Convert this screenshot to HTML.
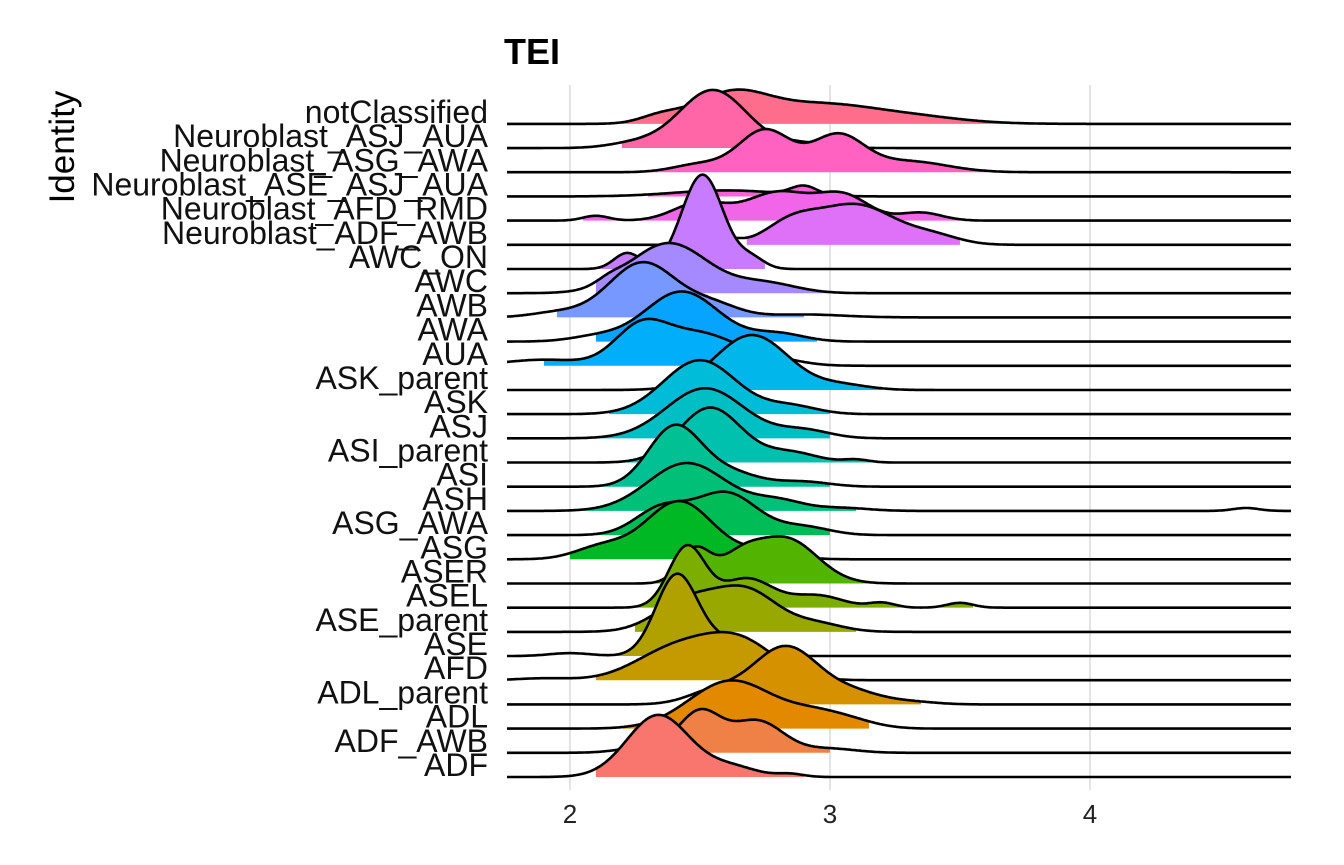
<!DOCTYPE html>
<html><head><meta charset="utf-8"><style>
html,body{margin:0;padding:0;background:#fff;}
svg{display:block;font-family:"Liberation Sans",Arial,sans-serif;}
</style></head><body>
<svg id="chart" width="1344" height="865" viewBox="0 0 1344 865" xmlns="http://www.w3.org/2000/svg">
<text x="504" y="64" font-size="36" font-weight="bold">TEI</text>
<text transform="translate(74,147) rotate(-90)" text-anchor="middle" font-size="35">Identity</text>
<g id="grid"></g>
<g id="ridges"></g>
<g id="labels"></g>
<g id="xticks"></g>
</svg>
<script>
const categories = ["ADF","ADF_AWB","ADL","ADL_parent","AFD","ASE","ASE_parent","ASEL","ASER","ASG","ASG_AWA","ASH","ASI","ASI_parent","ASJ","ASK","ASK_parent","AUA","AWA","AWB","AWC","AWC_ON","Neuroblast_ADF_AWB","Neuroblast_AFD_RMD","Neuroblast_ASE_ASJ_AUA","Neuroblast_ASG_AWA","Neuroblast_ASJ_AUA","notClassified"];
// density components per category: means, sds, amplitudes (in row units)
const compMeans = [
 [2.34,2.62,2.85],[2.5,2.72,2.3,3.0],[2.62,2.95,3.1],[2.83,2.55,3.1,3.3],[2.4,2.65,1.9],
 [2.41,2.6,2.0],[2.45,2.68,2.95],[2.45,2.68,2.95,3.2,3.5],[2.48,2.65,2.83],[2.42,2.12,2.75],
 [2.35,2.6,2.9],[2.45,2.8,3.05,4.6],[2.4,2.6,2.9],[2.54,2.85,3.1],[2.52,2.9],
 [2.5,2.85],[2.7,3.05],[2.27,2.5,1.9,2.8],[2.43,2.8,2.1],[2.28,2.55,1.95,2.9],
 [2.38,2.75,2.15],[2.51,2.22,2.7],[3.1,2.85,2.6,3.4],[2.5,2.8,3.05,3.35,2.1],
 [2.6,2.9],[2.75,3.03,2.5,3.3],[2.55,2.25,2.9],[2.62,2.95,3.3,2.35]];
const compSds = [
 [.12,.1,.05],[.08,.1,.1,.1],[.16,.12,.1],[.13,.1,.1,.1],[.15,.14,.1],
 [.08,.1,.08],[.12,.12,.1],[.07,.1,.1,.05,.05],[.06,.08,.12],[.13,.1,.1],
 [.1,.12,.1],[.15,.1,.1,.05],[.1,.12,.1],[.12,.1,.05],[.15,.1],
 [.14,.1],[.14,.1],[.1,.15,.15,.1],[.14,.1,.1],[.13,.1,.1,.15],
 [.15,.12,.05],[.08,.05,.05],[.15,.1,.05,.1],[.1,.12,.1,.08,.05],
 [.2,.05],[.1,.1,.1,.15],[.13,.1,.1],[.14,.2,.2,.08]];
const compAmps = [
 [2.56,0.41,0.12],[1.65,1.32,0.25,0.17],[1.98,0.58,0.17],[2.4,0.5,0.41,0.12],[1.24,1.57,0.08],
 [3.3,0.62,0.12],[1.24,1.65,0.33],[2.5,1.2,0.5,0.2,0.2],[1.4,0.9,1.85],[2.4,0.5,0.33],
 [1.07,1.74,0.33],[1.98,0.41,0.12,0.12],[2.4,0.62,0.2],[2.27,0.41,0.12],[2.07,0.33],
 [2.23,0.33],[2.27,0.2],[1.45,1.32,0.25,0.2],[2.07,0.33,0.2],[2.27,0.5,0.2,0.12],
 [2.07,0.41,0.2],[3.9,0.66,0.41],[1.65,0.83,0.25,0.33],[0.74,1.16,1.03,0.33,0.2],
 [0.25,0.37],[1.74,1.49,0.33,0.45],[2.4,0.2,0.2],[1.2,0.75,0.3,0.3]];
const fillMin = [2.1,2.2,2.2,2.55,2.1,2.1,2.25,2.2,2.3,2.0,2.1,2.05,2.1,2.1,2.1,2.15,2.2,1.9,2.1,1.95,2.1,2.1,2.68,2.05,2.3,2.3,2.2,2.2];
const fillMax = [2.9,3.0,3.15,3.35,3.0,2.85,3.1,3.55,3.2,2.8,3.0,3.1,3.0,3.2,3.0,3.0,3.2,2.8,2.95,2.9,3.0,2.75,3.5,3.5,3.3,3.6,2.95,3.7];
const xTicks = [2,3,4];

const X0 = 1.758, X1 = 4.777, PX0 = 507, PX1 = 1292;
const xs = v => PX0 + (v - X0) / (X1 - X0) * (PX1 - PX0);
const rowH = 24.19, base0 = 777;
const ys = i => base0 - i * rowH;
const NS = "http://www.w3.org/2000/svg";

function hcl(h, c, l) {
  const hr = h * Math.PI / 180, u = c * Math.cos(hr), v = c * Math.sin(hr);
  const Y = Math.pow((l + 16) / 116, 3);
  const up = u / (13 * l) + 0.19784, vp = v / (13 * l) + 0.46834;
  const X = Y * 9 * up / (4 * vp), Z = Y * (12 - 3 * up - 20 * vp) / (4 * vp);
  let r = 3.2406*X - 1.5372*Y - 0.4986*Z, g = -0.9689*X + 1.8758*Y + 0.0415*Z, b = 0.0557*X - 0.2040*Y + 1.0570*Z;
  const gm = t => { t = t <= 0.0031308 ? 12.92 * t : 1.055 * Math.pow(t, 1/2.4) - 0.055; return Math.round(Math.max(0, Math.min(1, t)) * 255); };
  return `rgb(${gm(r)},${gm(g)},${gm(b)})`;
}
function dens(i, x) {
  let s = 0;
  for (let k = 0; k < compMeans[i].length; k++) s += compAmps[i][k] * Math.exp(-0.5 * Math.pow((x - compMeans[i][k]) / compSds[i][k], 2));
  return s;
}

const grid = document.getElementById('grid');
xTicks.forEach(t => {
  const l = document.createElementNS(NS, 'line');
  
  
  l.setAttribute('x1', xs(t)); l.setAttribute('x2', xs(t)); l.setAttribute('y1', 85); l.setAttribute('y2', 790);
  l.setAttribute('stroke', '#e3e3e3'); l.setAttribute('stroke-width', 2);
  grid.appendChild(l);
  const tx = document.createElementNS(NS, 'text');
  
  
  tx.setAttribute('x', xs(t)); tx.setAttribute('y', 823); tx.setAttribute('text-anchor', 'middle');
  tx.setAttribute('font-size', 26); tx.setAttribute('fill', '#222');
  tx.textContent = t;
  document.getElementById('xticks').appendChild(tx);
});

const ridges = document.getElementById('ridges');
const N = categories.length;
for (let i = N - 1; i >= 0; i--) {
  const col = hcl(15 + i * 360 / N, 100, 65);
  const b = ys(i);
  const g = document.createElementNS(NS, 'g');
  
  
  let fp = `M${xs(fillMin[i])},${b}`;
  for (let x = fillMin[i]; x <= fillMax[i] + 1e-9; x += 0.005) fp += ` L${xs(x).toFixed(1)},${(b - dens(i, x) * rowH).toFixed(1)}`;
  fp += ` L${xs(fillMax[i])},${b} Z`;
  const f = document.createElementNS(NS, 'path');
  
  
  f.setAttribute('d', fp); f.setAttribute('fill', col);
  g.appendChild(f);
  let lp = '';
  for (let x = X0; x <= X1 + 1e-9; x += 0.005) lp += (lp ? ' L' : 'M') + xs(x).toFixed(1) + ',' + (b - dens(i, x) * rowH).toFixed(1);
  const ln = document.createElementNS(NS, 'path');
  
  
  ln.setAttribute('d', lp); ln.setAttribute('fill', 'none'); ln.setAttribute('stroke', '#000'); ln.setAttribute('stroke-width', 2.6);
  g.appendChild(ln);
  ridges.appendChild(g);

  const t = document.createElementNS(NS, 'text');
  
  
  t.setAttribute('x', 488); t.setAttribute('y', b - 1); t.setAttribute('text-anchor', 'end');
  t.setAttribute('font-size', 32); t.setAttribute('fill', '#111');
  t.textContent = categories[i];
  document.getElementById('labels').appendChild(t);
}
</script>
</body></html>
